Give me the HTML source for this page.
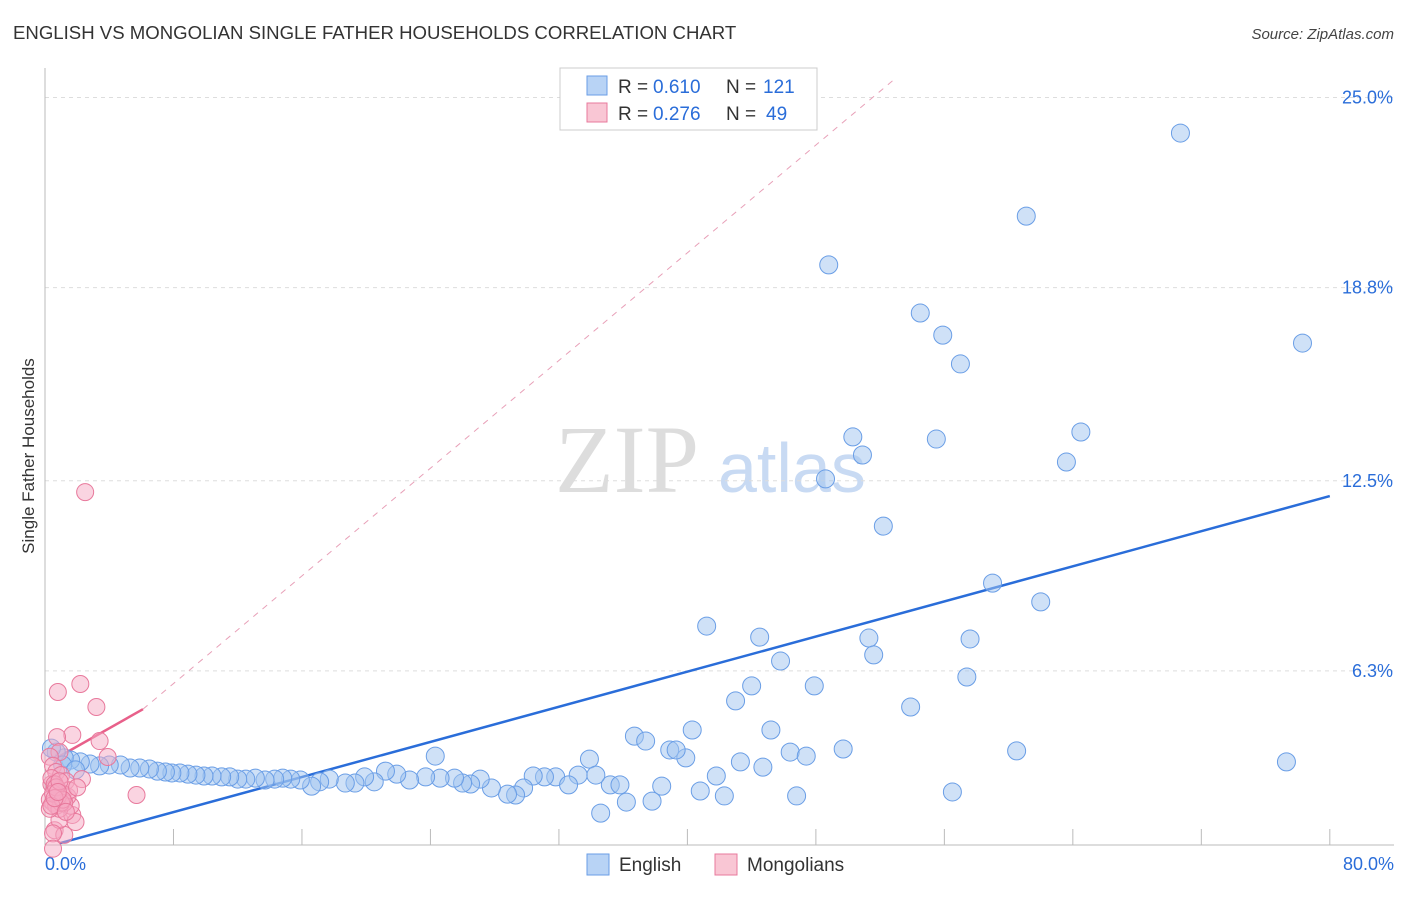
<!DOCTYPE html>
<html><head><meta charset="utf-8"><style>
body{margin:0;background:#fff;font-family:"Liberation Sans",sans-serif}
</style></head><body>
<svg id="chart" width="1406" height="892" xmlns="http://www.w3.org/2000/svg" style="font-family:'Liberation Sans',sans-serif">
<text x="13" y="39" font-size="18.6" fill="#333">ENGLISH VS MONGOLIAN SINGLE FATHER HOUSEHOLDS CORRELATION CHART</text>
<text x="1394" y="39" font-size="15" fill="#444" text-anchor="end" font-style="italic">Source: ZipAtlas.com</text>
<text transform="translate(34,456) rotate(-90)" font-size="17" fill="#333" text-anchor="middle">Single Father Households</text>
<g><text x="555" y="492" font-size="96" fill="#ddd" font-family="Liberation Serif">ZIP</text><text x="718" y="492" font-size="70" fill="#c8daf3">atlas</text></g>
<g id="grid"></g><g id="axes"></g><g id="trend"></g><g id="pts"></g>
<g>
<rect x="560" y="68" width="257" height="62" fill="#fff" stroke="#ccc"/>
<rect x="587" y="76" width="20" height="19" fill="#b8d3f5" stroke="#6a9ee6"/>
<rect x="587" y="103" width="20" height="19" fill="#f9c6d4" stroke="#e8799c"/>
<text x="618" y="93" font-size="19" fill="#333">R =</text><text x="653" y="93" font-size="19" fill="#2a6dd9">0.610</text><text x="726" y="93" font-size="19" fill="#333">N =</text><text x="763" y="93" font-size="19" fill="#2a6dd9">121</text>
<text x="618" y="120" font-size="19" fill="#333">R =</text><text x="653" y="120" font-size="19" fill="#2a6dd9">0.276</text><text x="726" y="120" font-size="19" fill="#333">N =</text><text x="766" y="120" font-size="19" fill="#2a6dd9">49</text>
</g>
<g>
<rect x="587" y="854" width="22" height="21" fill="#b8d3f5" stroke="#6a9ee6"/>
<text x="619" y="871" font-size="19" fill="#333">English</text>
<rect x="715" y="854" width="22" height="21" fill="#f9c6d4" stroke="#e8799c"/>
<text x="747" y="871" font-size="19" fill="#333">Mongolians</text>
</g>
</svg>
<script>
const yTicks=[6.3,12.5,18.8,25.0];
const yTickLabels=["6.3%","12.5%","18.8%","25.0%"];
const xTicks=[0,8,16,24,32,40,48,56,64,72,80];
const englishX=[70.7,61.1,48.8,54.5,55.9,78.3,57.0,50.3,55.5,64.5,50.9,63.6,48.6,52.2,59.0,62.0,41.2,44.5,51.3,57.6,51.6,45.8,57.4,44.0,47.9,43.0,53.9,40.3,45.2,36.7,37.4,38.9,39.9,39.3,46.4,47.4,49.7,60.5,77.3,43.3,44.7,41.8,33.9,24.3,40.8,42.3,46.8,56.5,38.4,35.2,35.8,36.2,37.8,34.6,33.2,34.3,31.8,31.1,30.4,32.6,29.8,29.3,28.8,27.8,27.1,26.5,26.0,25.5,24.6,23.7,22.7,21.9,21.2,20.5,19.9,19.3,18.7,17.7,17.1,16.6,15.9,15.3,14.8,14.3,13.7,13.1,12.5,12.0,11.5,11.0,10.4,9.9,9.4,8.9,8.4,7.9,7.5,7.0,6.5,5.9,5.3,4.7,4.0,3.4,2.8,2.2,1.6,1.2,0.7,0.4,1.1,1.9];
const englishY=[23.84,21.13,19.54,17.97,17.25,16.99,16.31,13.93,13.86,14.09,13.34,13.11,12.56,11.02,9.16,8.55,7.76,7.40,7.37,7.34,6.82,6.62,6.10,5.81,5.81,5.32,5.12,4.37,4.37,4.17,4.01,3.72,3.46,3.72,3.65,3.52,3.75,3.69,3.33,3.33,3.16,2.87,3.42,3.52,2.38,2.22,2.22,2.35,2.54,2.58,2.58,2.02,2.05,1.66,2.90,2.90,2.84,2.84,2.87,2.58,2.48,2.25,2.28,2.48,2.77,2.61,2.64,2.80,2.80,2.84,2.74,2.93,3.03,2.68,2.84,2.64,2.64,2.77,2.68,2.54,2.74,2.77,2.80,2.77,2.74,2.80,2.77,2.77,2.84,2.84,2.87,2.87,2.90,2.93,2.97,2.97,3.00,3.03,3.10,3.13,3.13,3.23,3.23,3.20,3.26,3.33,3.39,3.46,3.65,3.78,3.23,3.07];
const mongolX=[2.5,0.8,2.2,3.2,1.7,0.75,3.4,5.7,3.9,2.3,0.9,0.6,1.2,0.9,1.7,1.6,1.9,0.5,0.3,0.5,0.7,1.0,1.3,0.4,0.6,0.8,1.1,1.4,0.3,0.5,0.7,0.9,1.2,1.5,0.4,0.6,0.8,1.0,0.3,0.5,0.7,0.9,1.1,0.4,0.6,0.8,2.0,1.3,0.5];
const mongolY=[12.13,5.61,5.87,5.12,4.21,4.14,4.01,2.25,3.49,2.77,3.65,1.1,0.95,1.44,1.6,1.9,1.37,1.0,3.5,3.2,3.0,2.9,2.7,2.6,2.5,2.4,2.3,2.2,2.1,2.0,1.9,1.8,2.0,2.4,2.8,2.6,2.2,2.0,1.8,2.3,2.5,2.7,2.1,1.9,2.15,2.35,2.5,1.7,0.5];
const blueTrend=[[0.93,0.68],[80,12.0]];
const pinkTrend=[[0.6,3.42],[6.1,5.05]];
const pinkDash=[[6.1,5.05],[52.9,25.6]];
const X=v=>45+v*16.06, Y=v=>864-v*30.66;
const NS="http://www.w3.org/2000/svg";
function mk(t,a,p){const e=document.createElementNS(NS,t);for(const k in a)e.setAttribute(k,a[k]);p.appendChild(e);return e;}
const grid=document.getElementById('grid'),axes=document.getElementById('axes'),trend=document.getElementById('trend'),pts=document.getElementById('pts');
yTicks.forEach((t,i)=>{const l=mk('line',{x1:45,x2:1394,y1:Y(t),y2:Y(t),stroke:'#ddd','stroke-dasharray':'4,4'},grid);


const tx=mk('text',{x:1393,y:Y(t)+6,'font-size':18,fill:'#2a6dd9','text-anchor':'end'},axes);tx.textContent=yTickLabels[i];

});
const ax=mk('line',{x1:45,x2:1394,y1:845,y2:845,stroke:'#bbb'},axes);


const ay=mk('line',{x1:45,x2:45,y1:68,y2:845,stroke:'#bbb'},axes);


xTicks.forEach(t=>{const l=mk('line',{x1:X(t),x2:X(t),y1:829,y2:845,stroke:'#bbb'},axes);

});
[[0,"0.0%","start",45],[80,"80.0%","end",1394]].forEach(d=>{const tx=mk('text',{x:d[3],y:870,'font-size':18,fill:'#2a6dd9','text-anchor':d[2]},axes);tx.textContent=d[1];

});
function ln(d,st,w,dash,name){const l=mk('line',{x1:X(d[0][0]),y1:Y(d[0][1]),x2:X(d[1][0]),y2:Y(d[1][1]),stroke:st,'stroke-width':w},trend);if(dash)l.setAttribute('stroke-dasharray',dash);

}
ln(pinkDash,'#e8a0b8',1,'6,6','mongolian-trend-extension');
englishX.forEach((x,i)=>{const c=mk('circle',{cx:X(x),cy:Y(englishY[i]),r:9,fill:'rgba(160,196,240,0.5)',stroke:'#6a9ee6','stroke-width':1},pts);

});
mongolX.forEach((x,i)=>{const c=mk('circle',{cx:X(x),cy:Y(mongolY[i]),r:8.5,fill:'rgba(245,170,195,0.5)',stroke:'#e8799c','stroke-width':1},pts);

});
ln(blueTrend,'#2a6dd9',2.5,null,'english-trend-line');
ln(pinkTrend,'#e8608a',2.5,null,'mongolian-trend-line');
</script>
</body></html>
